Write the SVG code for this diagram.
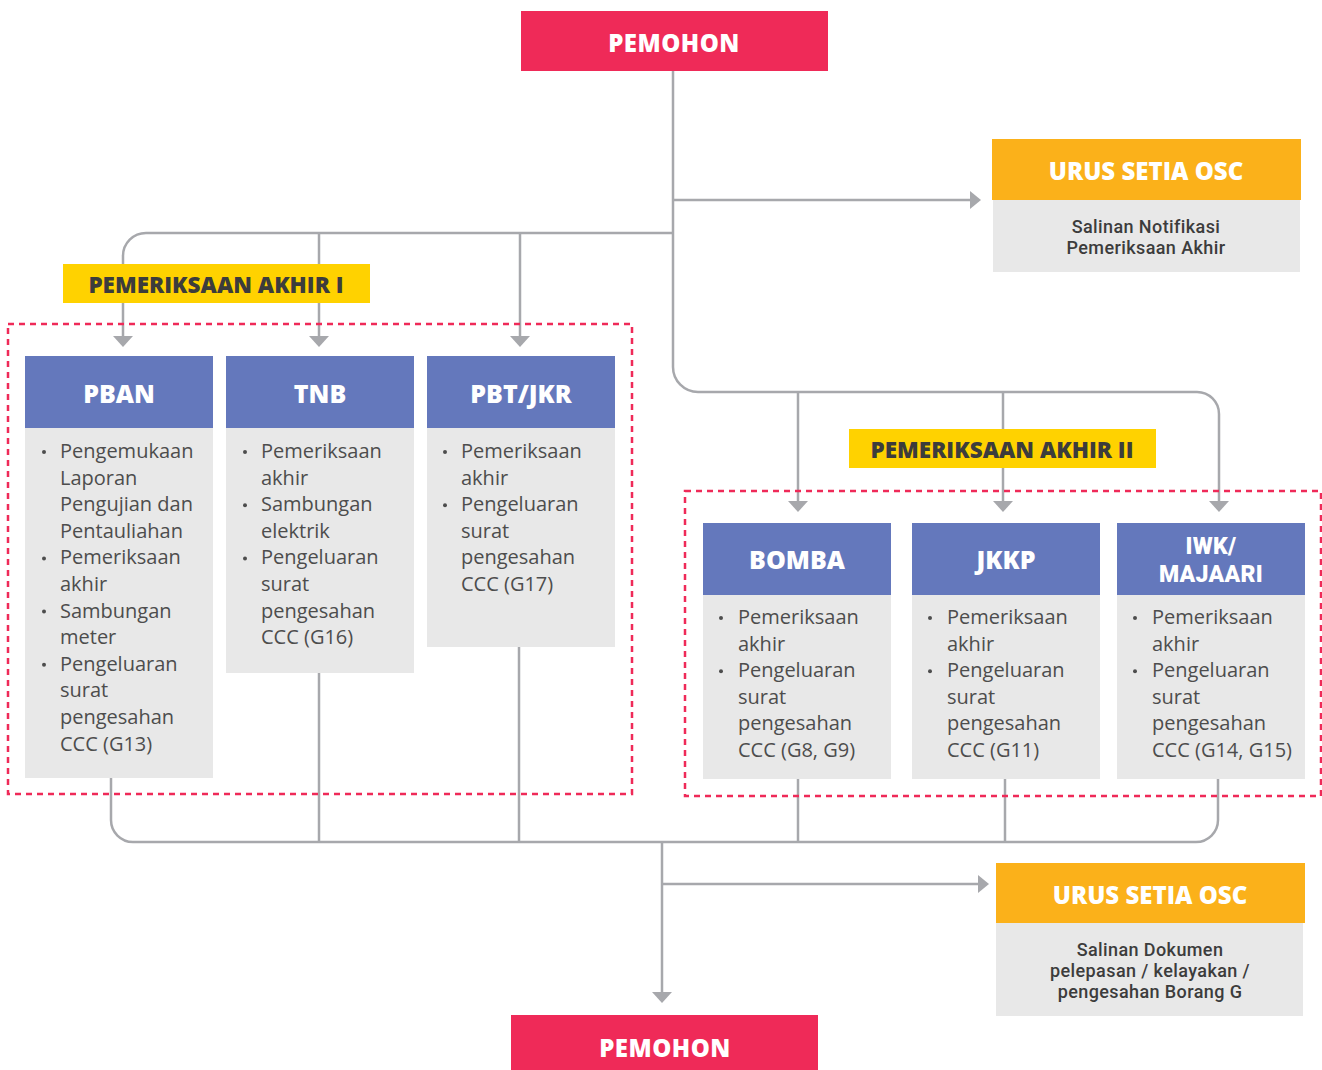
<svg xmlns="http://www.w3.org/2000/svg" width="1322" height="1070" viewBox="0 0 1322 1070">
<style>
.pink{fill:#EF2A58}
.orange{fill:#FBB11A}
.yellow{fill:#FFD200}
.blue{fill:#6478BC}
.grey{fill:#E8E8E8}
.hd{font-family:"Open Sans","Liberation Sans",sans-serif;font-weight:800;fill:#FFFFFF;text-anchor:middle}
.hd2{font-family:Roboto,"Liberation Sans",sans-serif;font-weight:900;font-size:23px;letter-spacing:0.3px;fill:#FFFFFF;text-anchor:middle}
.lbl{font-family:"Open Sans","Liberation Sans",sans-serif;font-weight:800;font-size:22.5px;fill:#3C3C3C;text-anchor:middle}
.body{font-family:"Open Sans","Liberation Sans",sans-serif;font-size:20px;fill:#4D4D4D}
.note{font-family:Roboto,"Liberation Sans",sans-serif;font-weight:500;font-size:18px;letter-spacing:0.4px;fill:#3C3C3C;text-anchor:middle}
.ln{fill:none;stroke:#A7A8AC;stroke-width:2.5}
.ah{fill:#A7A8AC}
.dash{fill:none;stroke:#EF2A58;stroke-width:2.5;stroke-dasharray:6 5}
.dot{fill:#4D4D4D}
</style>

<g id="connectors">
  <path class="ln" d="M673,71 V367 A25,25 0 0 0 698,392 H1197 A22,22 0 0 1 1219,414 V502"/>
  <path class="ln" d="M673,200 H971"/>
  <path class="ln" d="M673,233 H146 A23,23 0 0 0 123,256 V337"/>
  <path class="ln" d="M319,233 V337"/>
  <path class="ln" d="M520,233 V337"/>
  <path class="ln" d="M798,392 V502"/>
  <path class="ln" d="M1003,392 V502"/>
  <polygon class="ah" points="970,191 981,200 970,209"/>
  <polygon class="ah" points="113,336 133,336 123,347"/>
  <polygon class="ah" points="309,336 329,336 319,347"/>
  <polygon class="ah" points="510,336 530,336 520,347"/>
  <polygon class="ah" points="788,501 808,501 798,512"/>
  <polygon class="ah" points="993,501 1013,501 1003,512"/>
  <polygon class="ah" points="1209,501 1229,501 1219,512"/>
  <path class="ln" d="M111,778 V820 A22,22 0 0 0 133,842 H1196 A22,22 0 0 0 1218,820 V779"/>
  <path class="ln" d="M319,673 V842"/>
  <path class="ln" d="M519,647 V842"/>
  <path class="ln" d="M798,779 V842"/>
  <path class="ln" d="M1005,779 V842"/>
  <path class="ln" d="M662,842 V993"/>
  <path class="ln" d="M662,884 H978"/>
  <polygon class="ah" points="652,992 672,992 662,1003"/>
  <polygon class="ah" points="978,875 989,884 978,893"/>
</g>

<g id="group1-frame">
  <rect class="dash" x="8" y="324" width="624" height="470"/>
</g>
<g id="group2-frame">
  <rect class="dash" x="685" y="491" width="636" height="305"/>
</g>

<g id="pemohon-top">
  <rect class="pink" x="521" y="11" width="307" height="60"/>
  <text class="hd" x="674" y="52" font-size="24" letter-spacing="0.5">PEMOHON</text>
</g>

<g id="osc-top">
  <rect class="orange" x="992" y="139" width="309" height="61"/>
  <rect class="grey" x="993" y="200" width="307" height="72"/>
  <text class="hd" x="1146" y="180" font-size="24">URUS SETIA OSC</text>
  <text class="note" x="1146" y="233">Salinan Notifikasi</text>
  <text class="note" x="1146" y="254">Pemeriksaan Akhir</text>
</g>

<g id="label-akhir-1">
  <rect class="yellow" x="63" y="264" width="307" height="39"/>
  <text class="lbl" x="216" y="293">PEMERIKSAAN AKHIR I</text>
</g>

<g id="label-akhir-2">
  <rect class="yellow" x="849" y="429" width="307" height="39"/>
  <text class="lbl" x="1002" y="458">PEMERIKSAAN AKHIR II</text>
</g>

<g id="pban">
  <rect class="blue" x="25" y="356" width="188" height="72"/>
  <rect class="grey" x="25" y="428" width="188" height="350"/>
  <text class="hd" x="119" y="403" font-size="25">PBAN</text>
  <circle class="dot" cx="44" cy="452" r="2"/>
  <circle class="dot" cx="44" cy="558.4" r="2"/>
  <circle class="dot" cx="44" cy="611.6" r="2"/>
  <circle class="dot" cx="44" cy="664.8" r="2"/>
  <text class="body">
    <tspan x="60" y="458">Pengemukaan</tspan>
    <tspan x="60" y="484.6">Laporan</tspan>
    <tspan x="60" y="511.2">Pengujian dan</tspan>
    <tspan x="60" y="537.8">Pentauliahan</tspan>
    <tspan x="60" y="564.4">Pemeriksaan</tspan>
    <tspan x="60" y="591">akhir</tspan>
    <tspan x="60" y="617.6">Sambungan</tspan>
    <tspan x="60" y="644.2">meter</tspan>
    <tspan x="60" y="670.8">Pengeluaran</tspan>
    <tspan x="60" y="697.4">surat</tspan>
    <tspan x="60" y="724">pengesahan</tspan>
    <tspan x="60" y="750.6">CCC (G13)</tspan>
  </text>
</g>

<g id="tnb">
  <rect class="blue" x="226" y="356" width="188" height="72"/>
  <rect class="grey" x="226" y="428" width="188" height="245"/>
  <text class="hd" x="320" y="403" font-size="25">TNB</text>
  <circle class="dot" cx="245" cy="452" r="2"/>
  <circle class="dot" cx="245" cy="505.2" r="2"/>
  <circle class="dot" cx="245" cy="558.4" r="2"/>
  <text class="body">
    <tspan x="261" y="458">Pemeriksaan</tspan>
    <tspan x="261" y="484.6">akhir</tspan>
    <tspan x="261" y="511.2">Sambungan</tspan>
    <tspan x="261" y="537.8">elektrik</tspan>
    <tspan x="261" y="564.4">Pengeluaran</tspan>
    <tspan x="261" y="591">surat</tspan>
    <tspan x="261" y="617.6">pengesahan</tspan>
    <tspan x="261" y="644.2">CCC (G16)</tspan>
  </text>
</g>

<g id="pbt-jkr">
  <rect class="blue" x="427" y="356" width="188" height="72"/>
  <rect class="grey" x="427" y="428" width="188" height="219"/>
  <text class="hd" x="521" y="403" font-size="25">PBT/JKR</text>
  <circle class="dot" cx="445" cy="452" r="2"/>
  <circle class="dot" cx="445" cy="505.2" r="2"/>
  <text class="body">
    <tspan x="461" y="458">Pemeriksaan</tspan>
    <tspan x="461" y="484.6">akhir</tspan>
    <tspan x="461" y="511.2">Pengeluaran</tspan>
    <tspan x="461" y="537.8">surat</tspan>
    <tspan x="461" y="564.4">pengesahan</tspan>
    <tspan x="461" y="591">CCC (G17)</tspan>
  </text>
</g>

<g id="bomba">
  <rect class="blue" x="703" y="523" width="188" height="72"/>
  <rect class="grey" x="703" y="595" width="188" height="184"/>
  <text class="hd" x="797" y="569" font-size="25">BOMBA</text>
  <circle class="dot" cx="721" cy="618" r="2"/>
  <circle class="dot" cx="721" cy="671.2" r="2"/>
  <text class="body">
    <tspan x="738" y="624">Pemeriksaan</tspan>
    <tspan x="738" y="650.6">akhir</tspan>
    <tspan x="738" y="677.2">Pengeluaran</tspan>
    <tspan x="738" y="703.8">surat</tspan>
    <tspan x="738" y="730.4">pengesahan</tspan>
    <tspan x="738" y="757">CCC (G8, G9)</tspan>
  </text>
</g>

<g id="jkkp">
  <rect class="blue" x="912" y="523" width="188" height="72"/>
  <rect class="grey" x="912" y="595" width="188" height="184"/>
  <text class="hd" x="1006" y="569" font-size="25">JKKP</text>
  <circle class="dot" cx="930" cy="618" r="2"/>
  <circle class="dot" cx="930" cy="671.2" r="2"/>
  <text class="body">
    <tspan x="947" y="624">Pemeriksaan</tspan>
    <tspan x="947" y="650.6">akhir</tspan>
    <tspan x="947" y="677.2">Pengeluaran</tspan>
    <tspan x="947" y="703.8">surat</tspan>
    <tspan x="947" y="730.4">pengesahan</tspan>
    <tspan x="947" y="757">CCC (G11)</tspan>
  </text>
</g>

<g id="iwk-majaari">
  <rect class="blue" x="1117" y="523" width="188" height="72"/>
  <rect class="grey" x="1117" y="595" width="188" height="184"/>
  <text class="hd2" x="1211" y="554">IWK/</text>
  <text class="hd2" x="1211" y="582">MAJAARI</text>
  <circle class="dot" cx="1135" cy="618" r="2"/>
  <circle class="dot" cx="1135" cy="671.2" r="2"/>
  <text class="body">
    <tspan x="1152" y="624">Pemeriksaan</tspan>
    <tspan x="1152" y="650.6">akhir</tspan>
    <tspan x="1152" y="677.2">Pengeluaran</tspan>
    <tspan x="1152" y="703.8">surat</tspan>
    <tspan x="1152" y="730.4">pengesahan</tspan>
    <tspan x="1152" y="757">CCC (G14, G15)</tspan>
  </text>
</g>

<g id="osc-bottom">
  <rect class="orange" x="996" y="863" width="309" height="60"/>
  <rect class="grey" x="996" y="923" width="307" height="93"/>
  <text class="hd" x="1150" y="904" font-size="24">URUS SETIA OSC</text>
  <text class="note" x="1150" y="956">Salinan Dokumen</text>
  <text class="note" x="1150" y="977">pelepasan / kelayakan /</text>
  <text class="note" x="1150" y="998">pengesahan Borang G</text>
</g>

<g id="pemohon-bottom">
  <rect class="pink" x="511" y="1015" width="307" height="60"/>
  <text class="hd" x="665" y="1057" font-size="24" letter-spacing="0.5">PEMOHON</text>
</g>
</svg>
